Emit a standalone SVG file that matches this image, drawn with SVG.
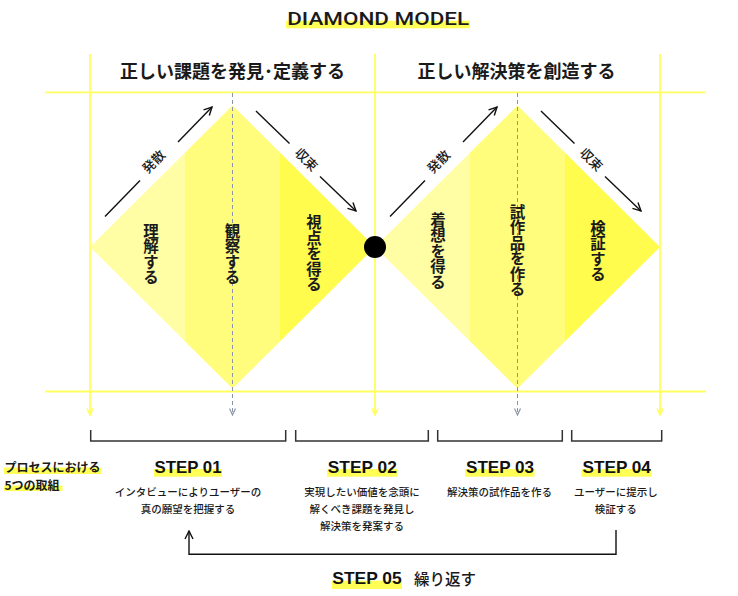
<svg xmlns="http://www.w3.org/2000/svg" width="738" height="596" viewBox="0 0 738 596">
<style>
.jp{font-family:"Noto Sans CJK JP","Noto Sans",sans-serif;fill:#1a1a1a}
.h{font-size:18px;font-weight:700;text-anchor:middle}
.v{font-size:15.5px;font-weight:700;writing-mode:vertical-rl;text-anchor:middle}
.lab{font-size:13px;font-weight:500;text-anchor:middle}
.d{font-size:10.5px;font-weight:500;text-anchor:middle}
.step{font-family:"Liberation Sans",Arial,sans-serif;font-weight:700;font-size:16.5px;text-anchor:middle;fill:#111}
.grid{stroke:#FFFF5E;stroke-width:1.8;fill:none}
.dash{stroke:#8A96A8;stroke-width:1;stroke-dasharray:4 3;fill:none}
.arr{stroke:#111;stroke-width:1.4;fill:none}
.br{stroke:#333;stroke-width:1.5;fill:none}
.hl{fill:#FFFF55}
.b1{fill:#FFFEA5}.b2{fill:#FFFD7B}.b3{fill:#FFFC4E}
</style>
<defs>
<marker id="ah" viewBox="0 0 10 10" refX="9" refY="5" markerWidth="10" markerHeight="10" markerUnits="userSpaceOnUse" orient="auto"><path d="M1,1 L9,5 L1,9" fill="none" stroke="#111" stroke-width="1.4"/></marker>
<marker id="ay" viewBox="0 0 8 8" refX="7" refY="4" markerWidth="8" markerHeight="8" markerUnits="userSpaceOnUse" orient="auto"><path d="M0.5,1 L7,4 L0.5,7" fill="none" stroke="#FFFF5E" stroke-width="1.6"/></marker>
<marker id="ag" viewBox="0 0 8 8" refX="7" refY="4" markerWidth="8" markerHeight="8" markerUnits="userSpaceOnUse" orient="auto"><path d="M0.5,1 L7,4 L0.5,7" fill="none" stroke="#8A96A8" stroke-width="1.2"/></marker>
<clipPath id="cl"><polygon points="90,247 232.5,105.5 375,247 232.5,388.5"/></clipPath>
<clipPath id="cr"><polygon points="375,247 517.5,105.5 660,247 517.5,388.5"/></clipPath>
</defs>
<rect width="738" height="596" fill="#fff"/>

<g id="title">
<rect class="hl" x="286" y="20.7" width="184" height="7.6"/>
<text x="378.2" y="25" font-family="Roboto,'Liberation Sans',sans-serif" font-weight="500" font-size="19" text-anchor="middle" fill="#1a1a1a" textLength="182" lengthAdjust="spacingAndGlyphs">DIAMOND MODEL</text>
</g>

<g id="diamond-left">
<g clip-path="url(#cl)">
<rect class="b1" x="90" y="100" width="95" height="295"/>
<rect class="b2" x="185" y="100" width="95" height="295"/>
<rect class="b3" x="280" y="100" width="95" height="295"/>
</g>
</g>
<g id="diamond-right">
<g clip-path="url(#cr)">
<rect class="b1" x="375" y="100" width="95" height="295"/>
<rect class="b2" x="470" y="100" width="95" height="295"/>
<rect class="b3" x="565" y="100" width="95" height="295"/>
</g>
</g>

<g id="connectors">
<line class="grid" x1="45" y1="92.3" x2="706" y2="92.3"/>
<line class="grid" x1="45" y1="391.5" x2="706" y2="391.5"/>
<line class="grid" x1="90" y1="54" x2="90" y2="415" marker-end="url(#ay)"/>
<line class="grid" x1="375" y1="54" x2="375" y2="415" marker-end="url(#ay)"/>
<line class="grid" x1="660" y1="54" x2="660" y2="415" marker-end="url(#ay)"/>
<line class="dash" x1="232.5" y1="93" x2="232.5" y2="415" marker-end="url(#ag)"/>
<line class="dash" x1="517.5" y1="93" x2="517.5" y2="415" marker-end="url(#ag)"/>
<line class="arr" x1="105" y1="216.5" x2="140" y2="180.5"/>
<line class="arr" x1="178" y1="142" x2="212" y2="107" marker-end="url(#ah)"/>
<line class="arr" x1="256" y1="111" x2="289.5" y2="143.5"/>
<line class="arr" x1="320" y1="176.5" x2="356" y2="211" marker-end="url(#ah)"/>
<line class="arr" x1="390" y1="216.5" x2="425" y2="180.5"/>
<line class="arr" x1="463" y1="142" x2="497" y2="107" marker-end="url(#ah)"/>
<line class="arr" x1="541" y1="111" x2="574.5" y2="143.5"/>
<line class="arr" x1="605" y1="176.5" x2="641" y2="211" marker-end="url(#ah)"/>
<path class="br" d="M90.7,430 V441 H285.7 V430"/>
<path class="br" d="M295.7,430 V441 H428.3 V430"/>
<path class="br" d="M437.7,430 V441 H562.3 V430"/>
<path class="br" d="M571.7,430 V441 H661.7 V430"/>
<path class="arr" d="M616,530 V554.3 H189 V531" marker-end="url(#ah)"/>
</g>

<g id="center-dot"><circle cx="375" cy="247" r="11" fill="#000"/></g>

<g id="headers">
<text class="jp h" x="232.5" y="78">正しい課題を発見･定義する</text>
<text class="jp h" x="516.5" y="78">正しい解決策を創造する</text>
</g>

<g id="phase-labels">
<text class="jp lab" transform="translate(157,165) rotate(-45)">発散</text>
<text class="jp lab" transform="translate(303,163) rotate(45)">収束</text>
<text class="jp lab" transform="translate(442,165) rotate(-45)">発散</text>
<text class="jp lab" transform="translate(588,163) rotate(45)">収束</text>
</g>

<g id="band-labels">
<text class="jp v" x="151" y="254">理解する</text>
<text class="jp v" x="232.5" y="254">観察する</text>
<text class="jp v" x="314" y="253.5">視点を得る</text>
<text class="jp v" x="438" y="251">着想を得る</text>
<text class="jp v" x="517.5" y="250.5">試作品を作る</text>
<text class="jp v" x="598" y="251">検証する</text>
</g>

<g id="process-label">
<rect class="hl" x="4" y="467.5" width="97" height="6.5"/>
<rect class="hl" x="4" y="485.5" width="58.5" height="5.5"/>
<text class="jp" x="4.5" y="471.5" font-size="12" font-weight="700">プロセスにおける</text>
<text class="jp" x="4.5" y="489.5" font-size="12" font-weight="700">5つの取組</text>
</g>

<g id="step01">
<rect class="hl" x="154" y="469" width="68" height="7.7"/>
<text class="step" x="188" y="473" textLength="67" lengthAdjust="spacingAndGlyphs">STEP 01</text>
<text class="jp d" x="188" y="496">インタビューによりユーザーの</text>
<text class="jp d" x="188" y="513">真の願望を把握する</text>
</g>
<g id="step02">
<rect class="hl" x="327" y="469" width="70.5" height="7.7"/>
<text class="step" x="362.3" y="473" textLength="69" lengthAdjust="spacingAndGlyphs">STEP 02</text>
<text class="jp d" x="362" y="496">実現したい価値を念頭に</text>
<text class="jp d" x="362" y="513">解くべき課題を発見し</text>
<text class="jp d" x="362" y="530">解決策を発案する</text>
</g>
<g id="step03">
<rect class="hl" x="465" y="469" width="69.5" height="7.7"/>
<text class="step" x="500" y="473" textLength="68" lengthAdjust="spacingAndGlyphs">STEP 03</text>
<text class="jp d" x="499.5" y="496">解決策の試作品を作る</text>
</g>
<g id="step04">
<rect class="hl" x="581.5" y="469" width="70" height="7.7"/>
<text class="step" x="616.7" y="473" textLength="68.5" lengthAdjust="spacingAndGlyphs">STEP 04</text>
<text class="jp d" x="615.8" y="496">ユーザーに提示し</text>
<text class="jp d" x="615.8" y="513">検証する</text>
</g>
<g id="step05">
<rect class="hl" x="332" y="580.7" width="70" height="8.3"/>
<text class="step" x="367" y="584" textLength="69.4" lengthAdjust="spacingAndGlyphs">STEP 05</text>
<text class="jp" x="414" y="584.5" font-size="15.5" font-weight="500">繰り返す</text>
</g>
</svg>
